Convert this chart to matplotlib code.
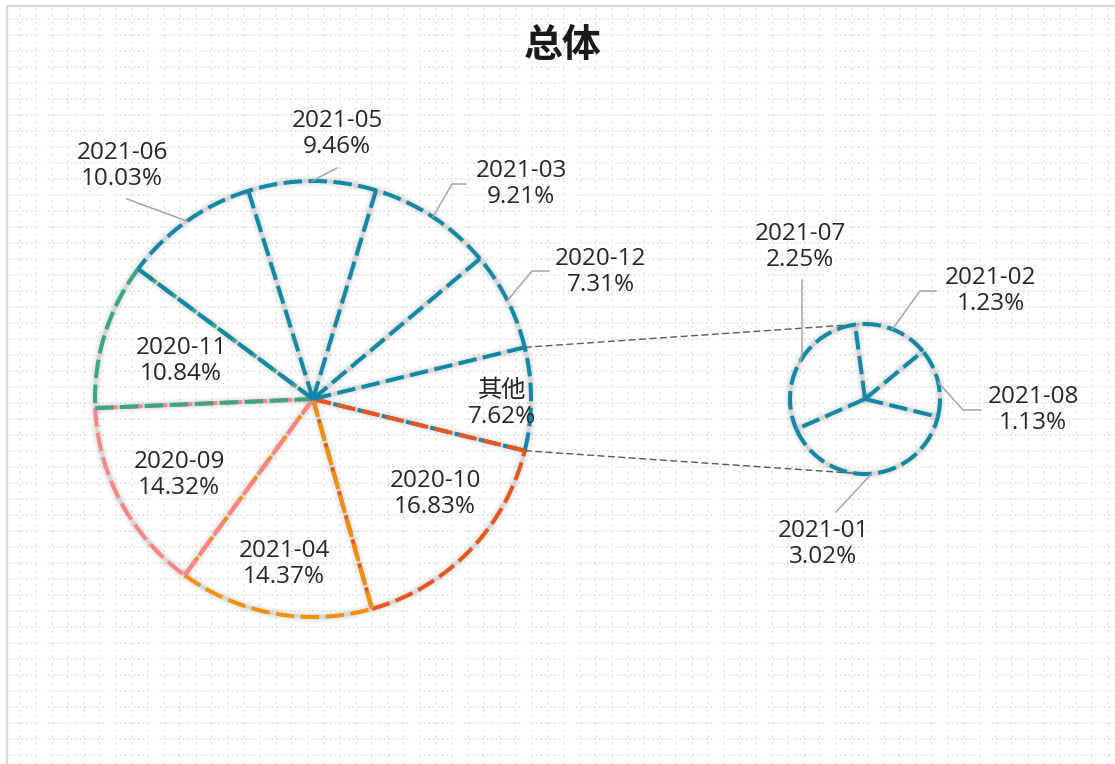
import numpy as np
import matplotlib
matplotlib.use("Agg")
import matplotlib.pyplot as plt

# ---- data -------------------------------------------------------------
main_labels = ["其他", "2020-10", "2021-04", "2020-09", "2020-11",
               "2021-06", "2021-05", "2021-03", "2020-12"]
main_values = [7.62, 16.83, 14.37, 14.32, 10.84, 10.03, 9.46, 9.21, 7.31]

sub_labels = ["2021-02", "2021-08", "2021-01", "2021-07"]
sub_values = [1.23, 1.13, 3.02, 2.25]

title = "总体"

# ---- styling / layout -------------------------------------------------
W, H = 1115, 764
BLUE = "#1287A8"
main_colors = [BLUE, "#E8561F", "#F0900A", "#FF8585", "#3AA682",
               BLUE, BLUE, BLUE, BLUE]
sub_colors = [BLUE] * 4

MAIN_C, MAIN_R = (313, 399), 218
SUB_C, SUB_R = (865, 399), 75
SUB_START = 97.6

DASH = (4.6, 1.6)
EDGE_LW = 2.9

# label centres (pixel coords, y down)
label_pos = {
    "2021-06": (122, 166), "2021-05": (337, 134), "2021-03": (521, 184),
    "2020-12": (601, 272), "2020-11": (181, 361), "其他": (502, 404),
    "2020-09": (179, 475), "2020-10": (435, 494), "2021-04": (284, 564),
    "2021-07": (800, 247), "2021-02": (991, 291), "2021-08": (1033, 410),
    "2021-01": (823, 544),
}
# leader line points from the label towards the wedge edge
leaders = {
    "2021-06": [(127, 199)],
    "2021-05": [(337, 168)],
    "2021-03": [(466, 184), (452, 184)],
    "2020-12": [(549, 271), (532, 271)],
    "2021-07": [(802, 280), (802, 355)],
    "2021-02": [(936, 291), (920, 291)],
    "2021-08": [(981, 410), (963, 410)],
    "2021-01": [(836, 512)],
}

plt.rcParams["font.family"] = ["Open Sans", "Noto Sans CJK SC", "DejaVu Sans"]

fig = plt.figure(figsize=(W / 100, H / 100), dpi=100)
fig.patch.set_facecolor("white")
ax = fig.add_axes([0, 0, 1, 1])


def P(x, y):
    """pixel (y down) -> data coords"""
    return x, H - y


# background dotted grid
for gx in range(20, W, 16):
    ax.plot([gx, gx], [0, H - 8], color="#e9e9e9", lw=1.4,
            ls=(0, (1, 2.4)), zorder=0)
for gy in range(19, H, 16):
    ax.plot([8, W], [H - gy, H - gy], color="#e9e9e9", lw=1.4,
            ls=(0, (1, 1.3)), zorder=0)

# chart border
ax.plot([7, 7, W + 5], [-5, H - 6, H - 6], color="#d9d9d9", lw=1.6,
        zorder=1, solid_joinstyle="miter")


def draw_pie(values, colors, center, radius, startangle):
    c = P(*center)
    wedges, _ = ax.pie(values, radius=radius, center=c,
                       startangle=startangle, counterclock=False, frame=True,
                       wedgeprops=dict(facecolor="none", edgecolor="none"))
    cx, cy = c
    n = len(wedges)

    def arc(wd):
        t = np.deg2rad(np.linspace(wd.theta1, wd.theta2, 240))
        return cx + radius * np.cos(t), cy + radius * np.sin(t)

    def spoke(theta):
        t = np.deg2rad(theta)
        return [cx, cx + radius * np.cos(t)], [cy, cy + radius * np.sin(t)]

    # soft shadow under every outline
    shapes = [arc(wd) for wd in wedges] + [spoke(wd.theta1) for wd in wedges]
    for lw, col, a in [(8, "#000000", 0.04), (5, "#000000", 0.05),
                       (2.3, "#d4d4d4", 1.0)]:
        for xs, ys in shapes:
            ax.plot(xs, ys, color=col, lw=lw, alpha=a, zorder=2,
                    solid_capstyle="butt")

    # dashed arcs
    for wd, col in zip(wedges, colors):
        xs, ys = arc(wd)
        ax.plot(xs, ys, color=col, lw=EDGE_LW, ls=(0, DASH), zorder=4,
                dash_capstyle="butt")
    # dashed spokes; neighbouring colours interleave along shared edges
    for i in range(n):
        a_col, b_col = colors[i], colors[(i + 1) % n]
        xs, ys = spoke(wedges[i].theta1)
        if a_col != b_col:
            ax.plot(xs, ys, color=a_col, lw=EDGE_LW, ls=(1.0, DASH),
                    zorder=4, dash_capstyle="butt")
        ax.plot(xs, ys, color=b_col, lw=EDGE_LW, ls=(0, DASH), zorder=4.5,
                dash_capstyle="butt")
    return wedges


main_start = main_values[0] / sum(main_values) * 360 / 2
mw = draw_pie(main_values, main_colors, MAIN_C, MAIN_R, main_start)
sw = draw_pie(sub_values, sub_colors, SUB_C, SUB_R, SUB_START)


def edge_point(wedge, center, radius):
    ang = np.deg2rad((wedge.theta1 + wedge.theta2) / 2)
    cx, cy = P(*center)
    return cx + radius * np.cos(ang), cy + radius * np.sin(ang)


# connector lines between the "其他" slice and the secondary pie
oth = mw[0]
mcx, mcy = P(*MAIN_C)
scx, scy = P(*SUB_C)
top_main = (mcx + MAIN_R * np.cos(np.deg2rad(oth.theta2)),
            mcy + MAIN_R * np.sin(np.deg2rad(oth.theta2)))
bot_main = (mcx + MAIN_R * np.cos(np.deg2rad(oth.theta1)),
            mcy + MAIN_R * np.sin(np.deg2rad(oth.theta1)))
top_sub = (scx + SUB_R * np.cos(np.deg2rad(95)), scy + SUB_R * np.sin(np.deg2rad(95)))
bot_sub = (scx + SUB_R * np.cos(np.deg2rad(262)), scy + SUB_R * np.sin(np.deg2rad(262)))
for a, b in [(top_main, top_sub), (bot_main, bot_sub)]:
    ax.plot([a[0], b[0]], [a[1], b[1]], color="#595959", lw=1.0,
            ls=(0, (5, 2.5)), zorder=3)

# data labels and leader lines
for names, vals, wedges, center, radius in [
        (main_labels, main_values, mw, MAIN_C, MAIN_R),
        (sub_labels, sub_values, sw, SUB_C, SUB_R)]:
    for name, v, wd in zip(names, vals, wedges):
        lx, ly = label_pos[name]
        ax.text(*P(lx, ly), f"{name}\n{v:.2f}%", ha="center", va="center",
                fontsize=17.5, color="#262626", linespacing=1.15, zorder=6)
        if name in leaders:
            pts = [P(*p) for p in leaders[name]] + [edge_point(wd, center, radius)]
            xs, ys = zip(*pts)
            ax.plot(xs, ys, color="#a6a6a6", lw=1.1, zorder=5)

ax.text(*P(563, 45), title, ha="center", va="center", fontsize=28,
        fontweight="bold", color="#1a1a1a",
        family=["Noto Sans CJK SC", "DejaVu Sans"], zorder=6)

ax.set_xlim(0, W)
ax.set_ylim(0, H)
ax.set_aspect("equal")
ax.axis("off")

fig.savefig("out.png", dpi=100, facecolor="white")
